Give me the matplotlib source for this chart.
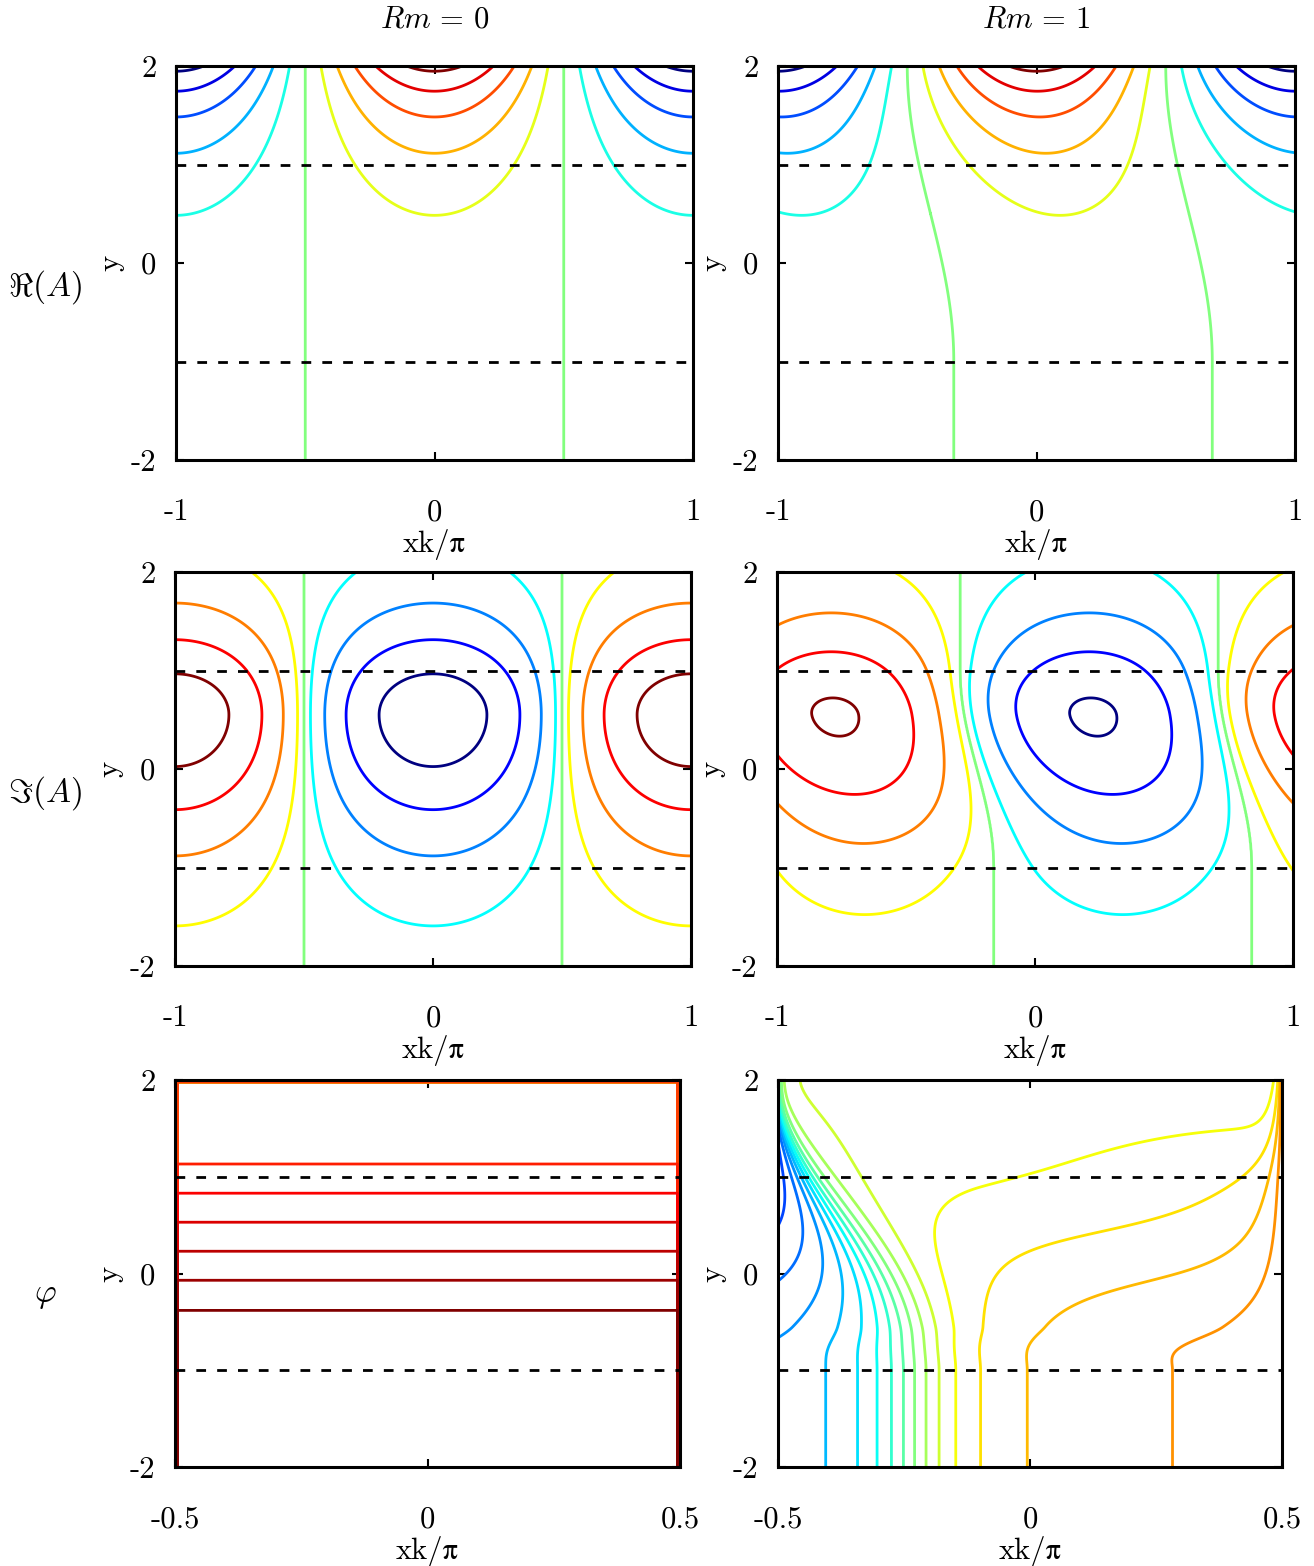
import numpy as np
import matplotlib.pyplot as plt
from matplotlib.colors import LinearSegmentedColormap

plt.rcParams['mathtext.fontset'] = 'cm'
plt.rcParams['font.family'] = ['cmr10', 'STIXGeneral', 'DejaVu Serif']
plt.rcParams['axes.formatter.use_mathtext'] = True

# ---- contour levels ----
re_levels = np.arange(-5, 6) / 5.3                   # 11 levels, Re(A)
im_levels = np.arange(-4, 5)                         # 9 levels, Im(A)
phi0_levels = 0.37 - 0.3 * np.arange(32, -1, -1)     # 33 levels, phi Rm=0
phi1_levels = -1.04 + 0.22 * np.arange(-8, 19)       # 27 levels, phi Rm=1

titles = [r'$Rm\,=\,0$', r'$Rm\,=\,1$']
row_labels = [r'$\Re(A)$', r'$\Im(A)$', r'$\varphi$']
xt_A = [-1, 0, 1]
xt_phi = [-0.5, 0, 0.5]
xt_A_lab = ['-1', '0', '1']
xt_phi_lab = ['-0.5', '0', '0.5']
yt = [-2, 0, 2]
yt_lab = ['-2', '0', '2']

# field shape parameters
re_decay = 1.1
re_shift = 0.18
im_peak = [4.6, 4.1]
im_shift = [0.21, 0.13]

# MATLAB-style jet
mjet = LinearSegmentedColormap.from_list('mjet', [
    (0.0, (0, 0, 0.5)), (0.125, (0, 0, 1)), (0.375, (0, 1, 1)),
    (0.625, (1, 1, 0)), (0.875, (1, 0, 0)), (1.0, (0.5, 0, 0))])


def ramp(t):
    t = np.clip(t, 0, 1)
    return (1 - np.cos(np.pi * t)) / 2


def softmin(a, b, s):
    return -s * np.logaddexp(-a / s, -b / s)


def softmax(a, b, s):
    return s * np.logaddexp(a / s, b / s)


def h_prof(y, H):
    k = np.where(y > 0.55, 1.3, 1.03)
    return H / np.cosh(k * (y - 0.55))


def f_prof(x):
    c = np.cos(np.pi * x)
    return np.sign(c) * np.abs(c) ** 0.6


xa = np.linspace(-1, 1, 801)
ya = np.linspace(-2, 2, 801)
XA, YA = np.meshgrid(xa, ya)

re0 = np.cos(np.pi * XA) * np.exp(re_decay * (YA - 2))
s1 = re_shift * ramp((2 - YA) / 3)
re1 = np.cos(np.pi * (XA - s1)) * np.exp(re_decay * (YA - 2))

im0 = -f_prof(XA) * h_prof(YA, im_peak[0])
s4 = im_shift[0] + im_shift[1] * ramp((1 - YA) / 2)
im1 = -f_prof(XA - s4) * h_prof(YA, im_peak[1])

xp = np.linspace(-0.5, 0.5, 1201)
yp = np.linspace(-2, 2, 1601)
XP, YP = np.meshgrid(xp, yp)

# phi, Rm = 0 : linear in y, dropping at the side and top walls
p = softmin(-YP, 0.45, 0.05)
p = softmax(p, -1.3, 0.05)
wall = (np.abs(XP) > 0.5 - 0.0045) | (YP > 2 - 0.02)
phi0 = np.where(wall, phi0_levels[0] - 1, p)

# phi, Rm = 1
u = np.clip((YP + 1) / 3, 0, 1)
Xc = -0.235 - 0.265 * ramp(u * 1.05)
Wc = 0.004 + 0.096 * (1 - u ** 1.8) ** 1.8
A = np.arctan((XP - Xc) / Wc)
lam = 0.008 * np.exp(1.25 * (2 - YP))
r = 1 - np.exp(-(0.5 - XP) / lam)
c = 0.2 * np.exp(-((YP - 1) / 0.6) ** 2)
q = 1 - c * ramp((XP + 0.1) / 0.6)
Dy = 0.98 * np.sin(np.pi / 2 * u) ** 1.6 * ramp(u / 0.15)
phi1 = A - Dy * q * r

fig = plt.figure(figsize=(13.14, 15.66), dpi=100)

rows = [
    (xa, ya, [re0, re1], [re_levels, re_levels], xt_A, xt_A_lab,
     [(176, 66, 517, 394), (778, 66, 517, 394)]),
    (xa, ya, [im0, im1], [im_levels, im_levels], xt_A, xt_A_lab,
     [(175, 572, 516, 394), (777, 572, 516, 394)]),
    (xp, yp, [phi0, phi1], [phi0_levels, phi1_levels], xt_phi, xt_phi_lab,
     [(175, 1080, 505, 387), (778, 1080, 504, 387)]),
]
W, H = 1314, 1566
fs = 22

for ri, (gx, gy, fields, levs, xt, xtl, boxes) in enumerate(rows):
    for ci in range(2):
        l, t, w, h = boxes[ci]
        ax = fig.add_axes([l / W, 1 - (t + h) / H, w / W, h / H])
        lev = levs[ci]
        ax.contour(gx, gy, fields[ci], levels=lev, cmap=mjet,
                   vmin=lev[0], vmax=lev[-1], linewidths=2.0)
        ax.axhline(1, color='k', lw=2.0, ls=(0, (3.5, 4)))
        ax.axhline(-1, color='k', lw=2.0, ls=(0, (3.5, 4)))
        ax.set_xlim(gx[0], gx[-1])
        ax.set_ylim(-2, 2)
        ax.set_xticks(xt, labels=xtl)
        ax.set_yticks(yt, labels=yt_lab)
        ax.tick_params(direction='in', top=True, right=True, length=6,
                       width=1.5, labelsize=fs)
        ax.tick_params(axis='x', pad=28)
        ax.tick_params(axis='y', pad=14)
        for sp in ax.spines.values():
            sp.set_linewidth(2.2)
        ax.set_xlabel('xk/π', fontsize=fs, labelpad=2)
        ax.set_ylabel('y', fontsize=fs, labelpad=5)
        if ri == 0:
            ax.set_title(titles[ci], fontsize=fs, pad=28)
    fig.text(45 / W, 1 - (boxes[0][1] + 0.56 * boxes[0][3]) / H, row_labels[ri],
             fontsize=fs + 2, ha='center', va='center')

fig.savefig('out.png', dpi=100)
